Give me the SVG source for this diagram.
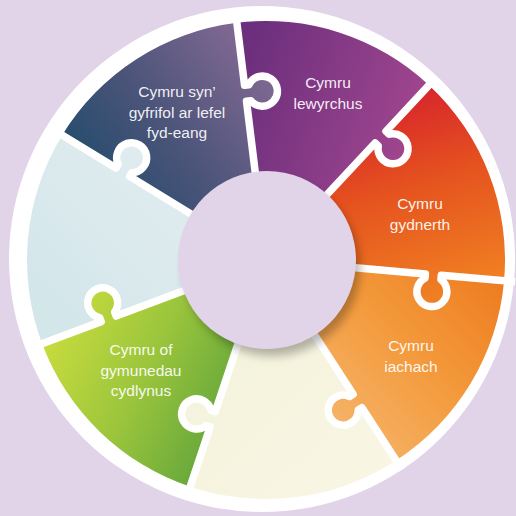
<svg xmlns="http://www.w3.org/2000/svg" xmlns:xlink="http://www.w3.org/1999/xlink" width="516" height="516" viewBox="0 0 516 516">
<style>
.lbl{font-family:"Liberation Sans",Arial,sans-serif;font-size:15.5px;fill:#ffffff;fill-opacity:0.93;text-anchor:middle}
.gap{fill:none;stroke:#ffffff;stroke-width:7.5;stroke-linejoin:round;stroke-linecap:butt}
</style>
<defs>
<linearGradient id="g0" gradientUnits="userSpaceOnUse" x1="60" y1="170" x2="235" y2="40"><stop offset="0" stop-color="#1d4b6a"/><stop offset="0.5" stop-color="#4b5479"/><stop offset="1" stop-color="#7d6791"/></linearGradient>
<linearGradient id="g1" gradientUnits="userSpaceOnUse" x1="245" y1="60" x2="430" y2="120"><stop offset="0" stop-color="#6c2f7d"/><stop offset="1" stop-color="#a3478f"/></linearGradient>
<linearGradient id="g2" gradientUnits="userSpaceOnUse" x1="420" y1="90" x2="480" y2="280"><stop offset="0" stop-color="#d8262b"/><stop offset="0.45" stop-color="#e5531f"/><stop offset="1" stop-color="#f07e22"/></linearGradient>
<linearGradient id="g3" gradientUnits="userSpaceOnUse" x1="500" y1="280" x2="340" y2="440"><stop offset="0" stop-color="#ee7c20"/><stop offset="0.5" stop-color="#f39a3c"/><stop offset="1" stop-color="#f6b46a"/></linearGradient>
<linearGradient id="g4" gradientUnits="userSpaceOnUse" x1="230" y1="340" x2="380" y2="500"><stop offset="0" stop-color="#f4f3dc"/><stop offset="1" stop-color="#f9f6e4"/></linearGradient>
<linearGradient id="g5" gradientUnits="userSpaceOnUse" x1="45" y1="340" x2="230" y2="430"><stop offset="0" stop-color="#c8dc3e"/><stop offset="0.5" stop-color="#9bc53c"/><stop offset="1" stop-color="#62a53b"/></linearGradient>
<linearGradient id="g6" gradientUnits="userSpaceOnUse" x1="40" y1="300" x2="190" y2="160"><stop offset="0" stop-color="#d3e6ea"/><stop offset="1" stop-color="#e2edf0"/></linearGradient>
<path id="knob" d="M160,-4 L176,-4 L176,4.31 A15 15 0 1 1 160,4.31 Z"/>
<path id="gap" d="M250,0 L176,0 L176,4.31 A15 15 0 1 1 160,4.31 L160,0 L70,0"/>
<clipPath id="c0"><path transform="translate(266,260) rotate(-148.5)" d="M80,0 L160,0 L160,4.31 A15 15 0 1 0 176,4.31 L176,0 L239,0 A239 239 0 0 1 148.78,187.04 L49.80,62.61 A80 80 0 0 0 80,0 Z"/><use xlink:href="#knob" transform="translate(266,260) rotate(-97)"/></clipPath>
<clipPath id="c1"><path transform="translate(266,260) rotate(-97)" d="M80,0 L160,0 L160,4.31 A15 15 0 1 0 176,4.31 L176,0 L239,0 A239 239 0 0 1 153.63,183.08 L51.42,61.28 A80 80 0 0 0 80,0 Z"/><use xlink:href="#knob" transform="translate(266,260) rotate(-47)"/></clipPath>
<clipPath id="c2"><path transform="translate(266,260) rotate(-47)" d="M80,0 L160,0 L160,4.31 A15 15 0 1 0 176,4.31 L176,0 L239,0 A239 239 0 0 1 147.14,188.33 L49.25,63.04 A80 80 0 0 0 80,0 Z"/><use xlink:href="#knob" transform="translate(266,260) rotate(5)"/></clipPath>
<clipPath id="c3"><path transform="translate(266,260) rotate(5)" d="M80,0 L160,0 L160,4.31 A15 15 0 1 0 176,4.31 L176,0 L239,0 A239 239 0 0 1 147.14,188.33 L49.25,63.04 A80 80 0 0 0 80,0 Z"/><use xlink:href="#knob" transform="translate(266,260) rotate(57)"/></clipPath>
<clipPath id="c4"><path transform="translate(266,260) rotate(57)" d="M80,0 L160,0 L160,4.31 A15 15 0 1 0 176,4.31 L176,0 L239,0 A239 239 0 0 1 148.78,187.04 L49.80,62.61 A80 80 0 0 0 80,0 Z"/><use xlink:href="#knob" transform="translate(266,260) rotate(108.5)"/></clipPath>
<clipPath id="c5"><path transform="translate(266,260) rotate(108.5)" d="M80,0 L160,0 L160,4.31 A15 15 0 1 0 176,4.31 L176,0 L239,0 A239 239 0 0 1 150.41,185.74 L50.35,62.17 A80 80 0 0 0 80,0 Z"/><use xlink:href="#knob" transform="translate(266,260) rotate(159.5)"/></clipPath>
<clipPath id="c6"><path transform="translate(266,260) rotate(159.5)" d="M80,0 L160,0 L160,4.31 A15 15 0 1 0 176,4.31 L176,0 L239,0 A239 239 0 0 1 147.14,188.33 L49.25,63.04 A80 80 0 0 0 80,0 Z"/><use xlink:href="#knob" transform="translate(266,260) rotate(211.5)"/></clipPath>
<filter id="sh" x="-30%" y="-30%" width="160%" height="160%"><feGaussianBlur stdDeviation="5"/></filter>
</defs>
<rect width="516" height="516" fill="#e1d4e8"/>
<circle cx="262" cy="259" r="253" fill="#ffffff"/>
<g id="piece-global">
<rect width="516" height="516" fill="url(#g0)" clip-path="url(#c0)"/>
<text class="lbl" x="177" y="97">Cymru syn’</text>
<text class="lbl" x="177" y="117.5">gyfrifol ar lefel</text>
<text class="lbl" x="177" y="138">fyd-eang</text>
</g>
<g id="piece-prosperous">
<rect width="516" height="516" fill="url(#g1)" clip-path="url(#c1)"/>
<text class="lbl" x="328" y="88">Cymru</text>
<text class="lbl" x="328" y="109">lewyrchus</text>
</g>
<g id="piece-resilient">
<rect width="516" height="516" fill="url(#g2)" clip-path="url(#c2)"/>
<text class="lbl" x="420" y="209">Cymru</text>
<text class="lbl" x="420" y="230">gydnerth</text>
</g>
<g id="piece-healthier">
<rect width="516" height="516" fill="url(#g3)" clip-path="url(#c3)"/>
<text class="lbl" x="411" y="351">Cymru</text>
<text class="lbl" x="411" y="372">iachach</text>
</g>
<g id="piece-cream">
<rect width="516" height="516" fill="url(#g4)" clip-path="url(#c4)"/>
</g>
<g id="piece-communities">
<rect width="516" height="516" fill="url(#g5)" clip-path="url(#c5)"/>
<text class="lbl" x="141" y="355">Cymru of</text>
<text class="lbl" x="141" y="376">gymunedau</text>
<text class="lbl" x="141" y="396">cydlynus</text>
</g>
<g id="piece-lightblue">
<rect width="516" height="516" fill="url(#g6)" clip-path="url(#c6)"/>
</g>
<g id="connectors">
<use xlink:href="#gap" class="gap" transform="translate(266,260) rotate(-97)"/>
<use xlink:href="#gap" class="gap" transform="translate(266,260) rotate(-47)"/>
<use xlink:href="#gap" class="gap" transform="translate(266,260) rotate(5)"/>
<use xlink:href="#gap" class="gap" transform="translate(266,260) rotate(57)"/>
<use xlink:href="#gap" class="gap" transform="translate(266,260) rotate(108.5)"/>
<use xlink:href="#gap" class="gap" transform="translate(266,260) rotate(159.5)"/>
<use xlink:href="#gap" class="gap" transform="translate(266,260) rotate(211.5)"/>
</g>
<g id="hub">
<circle cx="272" cy="268" r="88" fill="#000000" opacity="0.28" filter="url(#sh)"/>
<circle cx="267" cy="260" r="89" fill="#e1d4e8"/>
</g>
</svg>
